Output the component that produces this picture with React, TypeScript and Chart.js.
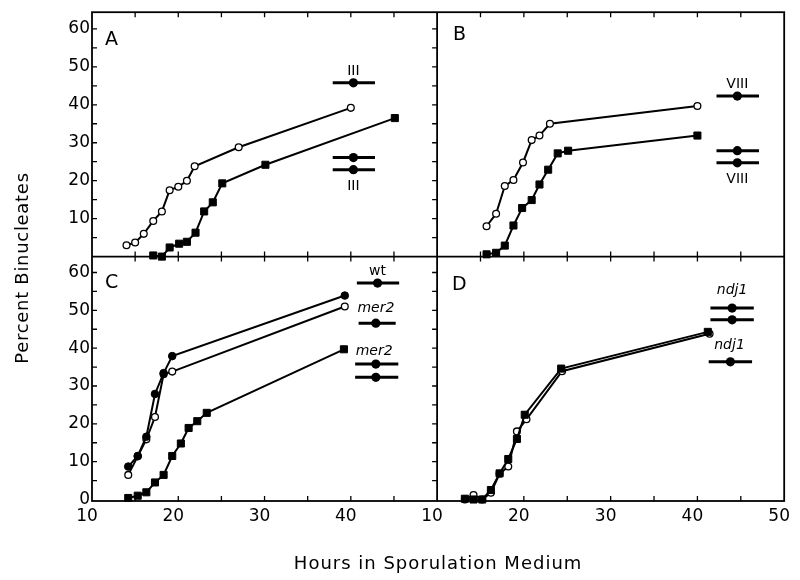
import React, { useEffect, useRef } from 'react';
import { Chart, registerables } from 'chart.js';

Chart.register(...registerables);

// ---------- Panel A (chromosome III) ----------
const hoursAOpen = [14, 15, 16, 17.1, 18.1, 19, 20, 21, 21.9, 27, 40];
const pctAOpen = [3, 3.7, 6, 9.4, 11.9, 17.5, 18.4, 20, 23.8, 28.8, 39.2];
const hoursASquare = [17.1, 18.1, 19, 20.1, 21, 22, 23, 24, 25.1, 30.1, 45.1];
const pctASquare = [0.3, 0, 2.4, 3.4, 3.9, 6.3, 11.9, 14.3, 19.3, 24.2, 36.5];
const markAHour = [40.3, 40.3, 40.3];
const markAPct = [45.8, 26.1, 22.9];
const markALo = [37.9, 37.9, 37.9];
const markAHi = [42.8, 42.8, 42.8];

// ---------- Panel B (chromosome VIII) ----------
const hoursBOpen = [15.7, 16.8, 17.8, 18.8, 19.9, 20.9, 21.8, 23.0, 40.0];
const pctBOpen = [8.0, 11.3, 18.6, 20.2, 24.8, 30.7, 31.9, 35.0, 39.7];
const hoursBSquare = [15.7, 16.8, 17.8, 18.8, 19.8, 20.9, 21.8, 22.8, 23.9, 25.1, 40.0];
const pctBSquare = [0.6, 1.0, 2.9, 8.2, 12.8, 14.9, 19.0, 22.9, 27.2, 27.9, 31.9];
const markBHour = [44.6, 44.6, 44.6];
const markBPct = [42.3, 27.9, 24.7];
const markBLo = [42.2, 42.2, 42.2];
const markBHi = [47.1, 47.1, 47.1];

// ---------- Panel C (wt / mer2) ----------
const hoursCFilled = [14.2, 15.3, 16.3, 17.3, 18.3, 19.3, 39.3];
const pctCFilled = [8.7, 11.5, 16.6, 27.9, 33.4, 37.9, 53.9];
const hoursCOpen = [14.2, 15.3, 16.3, 17.3, 18.3, 19.3, 39.3];
const pctCOpen = [6.5, 11.4, 15.9, 21.8, 33.1, 33.8, 51.0];
const hoursCSquare = [14.2, 15.3, 16.3, 17.3, 18.3, 19.3, 20.3, 21.2, 22.2, 23.3, 39.2];
const pctCSquare = [0.4, 1.0, 1.9, 4.5, 6.5, 11.5, 14.8, 18.9, 20.7, 22.9, 39.7];
const markCHour = [43.1, 42.9, 42.9, 42.9];
const markCPct = [57.2, 46.6, 35.8, 32.3];
const markCLo = [40.7, 40.9, 40.5, 40.5];
const markCHi = [45.6, 45.2, 45.5, 45.5];

// ---------- Panel D (ndj1) ----------
const hoursDSquare = [13.2, 14.2, 15.2, 16.2, 17.2, 18.2, 19.2, 20.1, 24.3, 41.2];
const pctDSquare = [0.2, 0, 0, 2.5, 6.9, 10.7, 16.0, 22.4, 34.6, 44.3];
const hoursDOpen = [13.2, 14.2, 15.2, 16.2, 17.2, 18.2, 19.2, 20.3, 24.4, 41.4];
const pctDOpen = [0, 1.2, 0, 1.8, 6.8, 8.7, 18.0, 21.2, 33.9, 43.8];
const markDHour = [44.0, 44.0, 43.8];
const markDPct = [50.6, 47.5, 36.4];
const markDLo = [41.5, 41.5, 41.3];
const markDHi = [46.5, 46.5, 46.3];

// ---------- ticks & labels ----------
const xTickLabels = [10, 20, 30, 40, 50];
const yTickLabels = [0, 10, 20, 30, 40, 50, 60];
const minorXTicks = [15, 20, 25, 30, 35, 40, 45];
const minorYTicks = [5, 10, 15, 20, 25, 30, 35, 40, 45, 50, 55, 60];
const panelLetters = ['A', 'B', 'C', 'D'];
const markTextA = ['III', 'III'];
const markTextB = ['VIII', 'VIII'];
const markTextC = ['wt', 'mer2', 'mer2'];
const markTextD = ['ndj1', 'ndj1'];
const xTitle = 'Hours in Sporulation Medium';
const yTitle = 'Percent Binucleates';

// annotation anchors (data coordinates of the marker labels)
const markTextAHour = [40.3, 40.3];
const markTextAPct = [48.9, 18.6];
const markTextBHour = [44.6, 44.6];
const markTextBPct = [45.5, 20.3];
const markTextCHour = [43.1, 42.9, 42.7];
const markTextCPct = [60.4, 50.6, 39.2];
const markTextDHour = [44.0, 43.7];
const markTextDPct = [55.2, 40.7];

const FONT = '"DejaVu Sans", sans-serif';
const BLACK = '#000';

type Kind = 'open' | 'filled' | 'square';

function series(xs: number[], ys: number[], kind: Kind, xAxisID: string, yAxisID: string) {
  return {
    type: 'line' as const,
    data: xs.map((x, i) => ({ x, y: ys[i] })),
    xAxisID,
    yAxisID,
    borderColor: BLACK,
    borderWidth: 2,
    pointStyle: kind === 'square' ? 'rect' : 'circle',
    pointRadius: kind === 'square' ? 5 : kind === 'filled' ? 3.8 : 3.4,
    pointBackgroundColor: kind === 'open' ? '#fff' : BLACK,
    pointBorderColor: BLACK,
    pointBorderWidth: kind === 'open' ? 1.3 : 1,
    clip: false as any,
    tension: 0,
    fill: false,
  };
}

function bars(hours: number[], pcts: number[], lo: number[], hi: number[], xAxisID: string, yAxisID: string) {
  return pcts.map((p, i) => ({
    type: 'line' as const,
    data: [
      { x: lo[i], y: p },
      { x: hours[i], y: p },
      { x: hi[i], y: p },
    ],
    xAxisID,
    yAxisID,
    borderColor: BLACK,
    borderWidth: 3,
    pointRadius: [0, 4.6, 0],
    pointStyle: 'circle',
    pointBackgroundColor: BLACK,
    pointBorderColor: BLACK,
    pointBorderWidth: 0,
    clip: false as any,
    fill: false,
  }));
}

const panelPlugin = {
  id: 'panels',
  beforeDatasetsDraw(chart: any) {
    const { ctx } = chart;
    const { xL, xR, yT, yB } = chart.scales;
    const left = xL.left;
    const mid = xL.right;
    const right = xR.right;
    const top = yT.top;
    const hmid = yT.bottom;
    const bottom = yB.bottom;
    ctx.save();
    ctx.strokeStyle = BLACK;
    ctx.lineWidth = 1.8;
    ctx.strokeRect(left, top, right - left, bottom - top);
    ctx.beginPath();
    ctx.moveTo(mid, top);
    ctx.lineTo(mid, bottom);
    ctx.moveTo(left, hmid);
    ctx.lineTo(right, hmid);
    ctx.stroke();

    const T = 5;
    ctx.lineWidth = 1.3;
    ctx.beginPath();
    for (const v of minorXTicks) {
      for (const sc of [xL, xR]) {
        const px = sc.getPixelForValue(v);
        ctx.moveTo(px, top);
        ctx.lineTo(px, top + T);
        ctx.moveTo(px, hmid - T);
        ctx.lineTo(px, hmid + T);
        ctx.moveTo(px, bottom);
        ctx.lineTo(px, bottom - T);
      }
    }
    for (const v of minorYTicks) {
      for (const sc of [yT, yB]) {
        const py = sc.getPixelForValue(v);
        ctx.moveTo(left, py);
        ctx.lineTo(left + T, py);
        ctx.moveTo(mid, py);
        ctx.lineTo(mid - T, py);
      }
    }
    ctx.stroke();
    ctx.restore();
  },
  afterDatasetsDraw(chart: any) {
    const { ctx } = chart;
    const { xL, xR, yT, yB } = chart.scales;
    ctx.save();
    ctx.fillStyle = BLACK;

    // panel letters
    ctx.font = `19px ${FONT}`;
    ctx.textAlign = 'left';
    ctx.textBaseline = 'alphabetic';
    ctx.fillText(panelLetters[0], xL.left + 13, yT.top + 33);
    ctx.fillText(panelLetters[1], xR.left + 16, yT.top + 28);
    ctx.fillText(panelLetters[2], xL.left + 13, yB.top + 31);
    ctx.fillText(panelLetters[3], xR.left + 15, yB.top + 33);

    // marker labels
    ctx.textAlign = 'center';
    ctx.textBaseline = 'middle';
    const put = (texts: string[], hs: number[], ps: number[], xs: any, ys: any, italic: (t: string) => boolean) => {
      texts.forEach((t, i) => {
        ctx.font = `${italic(t) ? 'italic ' : ''}14px ${FONT}`;
        ctx.fillText(t, xs.getPixelForValue(hs[i]), ys.getPixelForValue(ps[i]));
      });
    };
    const isGene = (t: string) => t !== 'wt' && !/^[IVX]+$/.test(t);
    put(markTextA, markTextAHour, markTextAPct, xL, yT, isGene);
    put(markTextB, markTextBHour, markTextBPct, xR, yT, isGene);
    put(markTextC, markTextCHour, markTextCPct, xL, yB, isGene);
    put(markTextD, markTextDHour, markTextDPct, xR, yB, isGene);

    // axis titles
    const area = chart.chartArea;
    ctx.font = `18px ${FONT}`;
    (ctx as any).letterSpacing = '1px';
    ctx.textAlign = 'center';
    ctx.textBaseline = 'alphabetic';
    ctx.fillText(xTitle, (area.left + area.right) / 2, 569);
    ctx.save();
    (ctx as any).letterSpacing = '0.7px';
    ctx.translate(28, 268);
    ctx.rotate(-Math.PI / 2);
    ctx.fillText(yTitle, 0, 0);
    ctx.restore();
    ctx.restore();
  },
};

function xScale(stackWeight: number, weight: number, hideLast: boolean) {
  return {
    type: 'linear' as const,
    position: 'bottom' as const,
    stack: 'xs',
    stackWeight,
    weight,
    min: xTickLabels[0],
    max: xTickLabels[xTickLabels.length - 1],
    grid: { display: false, drawTicks: false },
    border: { display: false },
    ticks: {
      stepSize: 10,
      autoSkip: false,
      maxRotation: 0,
      padding: 5,
      labelOffset: -5,
      color: BLACK,
      font: { family: FONT, size: 17 },
      callback: (v: any) => (hideLast && v === xTickLabels[xTickLabels.length - 1] ? '' : String(v)),
    },
    afterFit: (s: any) => {
      s.height = 79;
    },
  };
}

function yScale(weight: number, min: number, max: number, hideZero: boolean) {
  return {
    type: 'linear' as const,
    position: 'left' as const,
    stack: 'ys',
    stackWeight: 1,
    weight,
    min,
    max,
    grid: { display: false, drawTicks: false },
    border: { display: false },
    ticks: {
      stepSize: 10,
      includeBounds: false,
      autoSkip: false,
      padding: 2,
      color: BLACK,
      font: { family: FONT, size: 17 },
      callback: (v: any) => (yTickLabels.includes(v) && !(hideZero && v === 0) ? String(v) : ''),
    },
    afterFit: (s: any) => {
      s.width = 92;
    },
  };
}

export default function App() {
  const ref = useRef<HTMLCanvasElement>(null);
  useEffect(() => {
    if (!ref.current) return;
    const datasets: any[] = [
      series(hoursAOpen, pctAOpen, 'open', 'xL', 'yT'),
      series(hoursASquare, pctASquare, 'square', 'xL', 'yT'),
      ...bars(markAHour, markAPct, markALo, markAHi, 'xL', 'yT'),
      series(hoursBOpen, pctBOpen, 'open', 'xR', 'yT'),
      series(hoursBSquare, pctBSquare, 'square', 'xR', 'yT'),
      ...bars(markBHour, markBPct, markBLo, markBHi, 'xR', 'yT'),
      series(hoursCFilled, pctCFilled, 'filled', 'xL', 'yB'),
      series(hoursCOpen, pctCOpen, 'open', 'xL', 'yB'),
      series(hoursCSquare, pctCSquare, 'square', 'xL', 'yB'),
      ...bars(markCHour, markCPct, markCLo, markCHi, 'xL', 'yB'),
      series(hoursDSquare, pctDSquare, 'square', 'xR', 'yB'),
      series(hoursDOpen, pctDOpen, 'open', 'xR', 'yB'),
      ...bars(markDHour, markDPct, markDLo, markDHi, 'xR', 'yB'),
    ];
    const chart = new Chart(ref.current, {
      type: 'line',
      data: { datasets },
      options: {
        responsive: false,
        animation: false,
        devicePixelRatio: 1,
        events: [],
        layout: { padding: { left: 0, top: 4, right: 9, bottom: 0 } },
        plugins: {
          legend: { display: false },
          tooltip: { enabled: false },
          title: { display: false },
        },
        scales: {
          xL: xScale(348, 0, true),
          xR: xScale(350, 1, false),
          yT: yScale(1, 0, 64.4, true),
          yB: yScale(0, -0.4, 64.2, false),
        } as any,
      },
      plugins: [panelPlugin],
    } as any);
    return () => chart.destroy();
  }, []);
  return (
    <div style={{ position: 'absolute', left: 0, top: 0, width: 800, height: 580, background: '#fff' }}>
      <canvas ref={ref} width={800} height={580} style={{ display: 'block' }} />
    </div>
  );
}
